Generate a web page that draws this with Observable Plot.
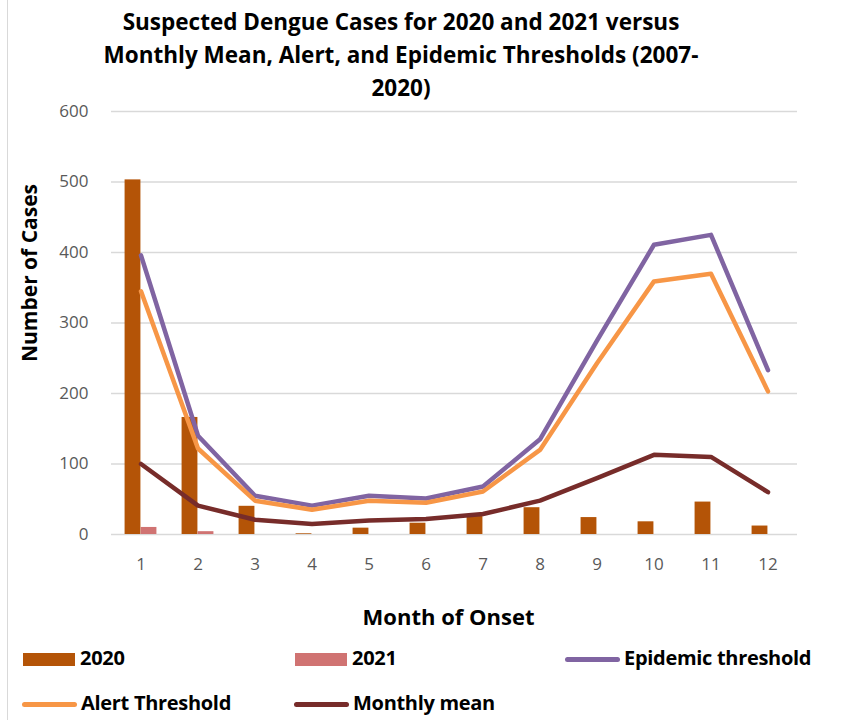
<!DOCTYPE html>
<html>
<head>
<meta charset="utf-8">
<script src="https://cdn.jsdelivr.net/npm/d3@7"></script>
<script src="https://cdn.jsdelivr.net/npm/@observablehq/plot@0.6"></script>
<style>
  html, body { margin: 0; padding: 0; background: #fff; }
  #wrap { position: relative; width: 842px; height: 720px; overflow: hidden; font-family: "Open Sans", sans-serif; }
  #border { position: absolute; left: 7px; top: 0; width: 1px; height: 720px; background: #D9D9D9; }
  #title { position: absolute; left: 51px; width: 700px; top: 5px; text-align: center; font-weight: 700; font-size: 22.5px; line-height: 33px; color: #000; letter-spacing: 0px; }
  #chart { position: absolute; left: 0; top: 100px; }
  .leg { position: absolute; font-weight: 700; font-size: 20px; color: #000; line-height: 22px; white-space: nowrap; letter-spacing: -0.3px; }
  .sw { position: absolute; }
</style>
</head>
<body>
<div id="wrap">
  <div id="border"></div>
  <div id="title">Suspected Dengue Cases for 2020 and 2021 versus<br>Monthly Mean, Alert, and Epidemic Thresholds (2007-<br>2020)</div>
  <div id="chart"></div>
  <div id="legend"></div>
</div>
<script>
const months = [1, 2, 3, 4, 5, 6, 7, 8, 9, 10, 11, 12];
const cases2020 = [503, 166, 40, 1, 9, 16, 26, 38, 24, 18, 46, 12];
const cases2021 = [10, 4, 0, 0, 0, 0, 0, 0, 0, 0, 0, 0];
const epidemicThreshold = [396, 140, 55, 41, 55, 51, 68, 135, 275, 411, 425, 233];
const alertThreshold = [345, 122, 48, 35, 48, 45, 61, 120, 243, 359, 370, 203];
const monthlyMean = [100, 41, 21, 15, 20, 22, 29, 48, 80, 113, 110, 60];
const yTicks = [0, 100, 200, 300, 400, 500, 600];
const yLabel = "Number of Cases";
const xLabel = "Month of Onset";

const legendItems = [
  {name: "2020", color: "#B45407", kind: "rect"},
  {name: "2021", color: "#D07372", kind: "rect"},
  {name: "Epidemic threshold", color: "#8064A2", kind: "line"},
  {name: "Alert Threshold", color: "#F79646", kind: "line"},
  {name: "Monthly mean", color: "#772C2A", kind: "line"}
];

const rows = months.map((m, i) => ({
  month: m,
  c2020: cases2020[i],
  c2021: cases2021[i],
  epi: epidemicThreshold[i],
  alert: alertThreshold[i],
  mean: monthlyMean[i]
}));

const W = 842, H = 540;
const mL = 111, mR = 45, mT = 11, mB = 106;
const bw = (W - mL - mR) / months.length;
const barW = 16;

const chart = Plot.plot({
  width: W,
  height: H,
  marginLeft: mL,
  marginRight: mR,
  marginTop: mT,
  marginBottom: mB,
  style: {fontFamily: "Open Sans, sans-serif", fontSize: "17px", color: "#595959", background: "transparent"},
  x: {type: "band", domain: months, padding: 0},
  y: {domain: [0, 600]},
  marks: [
    Plot.gridY(yTicks, {stroke: "#D9D9D9", strokeOpacity: 1, strokeWidth: 1.3}),
    Plot.barY(rows, {x: "month", y: "c2020", fill: legendItems[0].color, insetLeft: bw / 2 - barW, insetRight: bw / 2}),
    Plot.barY(rows, {x: "month", y: "c2021", fill: legendItems[1].color, insetLeft: bw / 2, insetRight: bw / 2 - barW}),
    Plot.lineY(rows, {x: "month", y: "epi", stroke: legendItems[2].color, strokeWidth: 4.5, strokeLinecap: "round", strokeLinejoin: "round"}),
    Plot.lineY(rows, {x: "month", y: "alert", stroke: legendItems[3].color, strokeWidth: 4.5, strokeLinecap: "round", strokeLinejoin: "round"}),
    Plot.lineY(rows, {x: "month", y: "mean", stroke: legendItems[4].color, strokeWidth: 4.5, strokeLinecap: "round", strokeLinejoin: "round"}),
    Plot.axisY(yTicks, {tickSize: 0, tickPadding: 23, label: null}),
    Plot.axisX({tickSize: 0, tickPadding: 23, label: null}),
    Plot.text([yLabel], {frameAnchor: "left", rotate: -90, dx: -81, dy: -50, fontSize: 21, fontWeight: 700, fill: "#000", textAnchor: "middle", lineAnchor: "middle"}),
    Plot.text([xLabel], {frameAnchor: "bottom", dx: -6, dy: 83, fontSize: 22, fontWeight: 700, fill: "#000", textAnchor: "middle", lineAnchor: "middle"})
  ]
});
document.getElementById("chart").appendChild(chart);

// Legend
const legendPos = [
  {sx: 23, tx: 80, y: 659},
  {sx: 295, tx: 352, y: 659},
  {sx: 565, tx: 624, y: 659},
  {sx: 22, tx: 81, y: 704},
  {sx: 294, tx: 353, y: 704}
];
const legend = document.getElementById("legend");
legendItems.forEach((it, i) => {
  const p = legendPos[i];
  const sw = document.createElement("div");
  sw.className = "sw";
  if (it.kind === "rect") {
    sw.style.cssText = `left:${p.sx}px;top:${p.y - 6}px;width:52px;height:13px;background:${it.color};`;
  } else {
    sw.style.cssText = `left:${p.sx}px;top:${p.y - 2.5}px;width:55px;height:5px;border-radius:3px;background:${it.color};`;
  }
  legend.appendChild(sw);
  const t = document.createElement("div");
  t.className = "leg";
  t.textContent = it.name;
  t.style.left = p.tx + "px";
  t.style.top = (p.y - 12) + "px";
  legend.appendChild(t);
});
</script>
</body>
</html>
